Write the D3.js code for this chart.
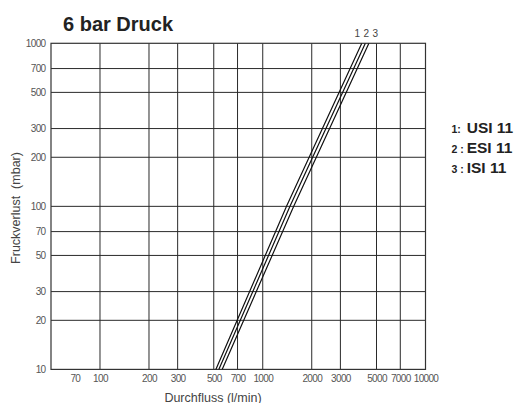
<!DOCTYPE html>
<html><head><meta charset="utf-8">
<script src="https://cdn.jsdelivr.net/npm/d3@7"></script>
<style>
html,body{margin:0;padding:0;background:#fff;}
svg{display:block;}
</style></head>
<body>
<script>
// ---- data ----
const title = "6 bar Druck";
const xTickLabels = [70,100,200,300,500,700,1000,2000,3000,5000,7000,10000];
const xGridValues = [100,200,300,500,700,1000,2000,3000,5000,7000];
const yTickLabels = [10,20,30,50,70,100,200,300,500,700,1000];
const yGridValues = [20,30,50,70,100,200,300,500,700];
const seriesNames = ["USI 11","ESI 11","ISI 11"];
const seriesKeys = ["1:","2 :","3 :"];
// flow (l/min) vs pressure loss (mbar)
const usi11 = [[515,10],[1400,100],[4060,1000]];
const esi11 = [[537,10],[1470,100],[4270,1000]];
const isi11 = [[563,10],[1550,100],[4490,1000]];
const seriesData = [usi11, esi11, isi11];
const xTitle = "Durchfluss (l/min)";
const yTitle = "Fruckverlust\u00A0 (mbar)";

// ---- layout ----
const W = 518, H = 403;
const m = {left:51, top:43.3, right:425.5, bottom:369.4};
const tickFont = "'Liberation Sans','Arial',sans-serif";

const svg = d3.select("body").append("svg").attr("width",W).attr("height",H);

const x = d3.scaleLog().domain([50,10000]).range([m.left, m.right]);
const y = d3.scaleLog().domain([10,1000]).range([m.bottom, m.top]);

const clipId = "plotclip";
svg.append("clipPath").attr("id",clipId).append("rect")
  .attr("x",m.left).attr("y",m.top).attr("width",m.right-m.left).attr("height",m.bottom-m.top);

// gridlines
const g = svg.append("g");
g.selectAll("line.vx").data(xGridValues).join("line")
  .attr("x1",d=>x(d)).attr("x2",d=>x(d)).attr("y1",m.top).attr("y2",m.bottom)
  .attr("stroke","#2a2a2a").attr("stroke-width",1);
g.selectAll("line.hy").data(yGridValues).join("line")
  .attr("y1",d=>y(d)).attr("y2",d=>y(d)).attr("x1",m.left).attr("x2",m.right)
  .attr("stroke","#2a2a2a").attr("stroke-width",1);

// frame
svg.append("rect").attr("x",m.left).attr("y",m.top)
  .attr("width",m.right-m.left).attr("height",m.bottom-m.top)
  .attr("fill","none").attr("stroke","#333").attr("stroke-width",1.2);

// axes (labels only)
const xAxis = d3.axisBottom(x).tickValues(xTickLabels).tickFormat(d3.format("d")).tickSize(0).tickPadding(0);
const gx = svg.append("g").attr("transform",`translate(0,${m.bottom})`).call(xAxis);
gx.select(".domain").remove();
gx.selectAll("text").attr("dy",null).attr("y",12.3)
  .attr("font-family",tickFont).attr("letter-spacing","-0.65px")
  .attr("font-size","10px").attr("fill","#555");

const yAxis = d3.axisLeft(y).tickValues(yTickLabels).tickFormat(d3.format("d")).tickSize(0).tickPadding(5.5);
const gy = svg.append("g").attr("transform",`translate(${m.left},0)`).call(yAxis);
gy.select(".domain").remove();
gy.selectAll("text")
  .attr("font-family",tickFont).attr("letter-spacing","-0.65px")
  .attr("font-size","10px").attr("fill","#555");

// curves
const line = d3.line().x(d=>x(d[0])).y(d=>y(d[1]));
svg.append("g").attr("clip-path",`url(#${clipId})`)
  .selectAll("path").data(seriesData).join("path")
  .attr("d",line).attr("fill","none").attr("stroke","#111").attr("stroke-width",1.2);

// curve numbers
const topFlow = esi11[esi11.length-1][0];
svg.append("g").selectAll("text").data(seriesData).join("text")
  .attr("x",(d,i)=>x(topFlow)+1+(i-1)*9)
  .attr("y",m.top-6)
  .attr("text-anchor","middle")
  .attr("font-family","'Liberation Sans','Arial',sans-serif")
  .attr("font-size","10px").attr("fill","#444")
  .text((d,i)=>String(i+1));

// title
svg.append("text").attr("x",63).attr("y",30.5)
  .attr("font-family","'Liberation Sans','Arial',sans-serif")
  .attr("font-weight","bold").attr("font-size","20px").attr("fill","#222")
  .text(title);

// axis titles
svg.append("text").attr("x",213).attr("y",401.5).attr("text-anchor","middle")
  .attr("font-family","'Liberation Sans','Arial',sans-serif")
  .attr("font-size","12.5px").attr("fill","#444").text(xTitle);
svg.append("text").attr("transform","translate(19.5,208) rotate(-90)").attr("text-anchor","middle")
  .attr("font-family","'Liberation Sans','Arial',sans-serif")
  .attr("font-size","12.5px").attr("fill","#444").text(yTitle);

// legend
const lg = svg.append("g");
seriesNames.forEach((n,i)=>{
  const by = 132.7 + i*20;
  lg.append("text").attr("x",451.5).attr("y",by)
    .attr("font-family","'Liberation Sans','Arial',sans-serif")
    .attr("font-weight","bold").attr("font-size","10.5px").attr("fill","#222")
    .text(seriesKeys[i]);
  lg.append("text").attr("x",466.7).attr("y",by)
    .attr("font-family","'Liberation Sans','Arial',sans-serif")
    .attr("font-weight","bold").attr("font-size","15.5px").attr("fill","#222")
    .text(n);
});
</script>
</body></html>
